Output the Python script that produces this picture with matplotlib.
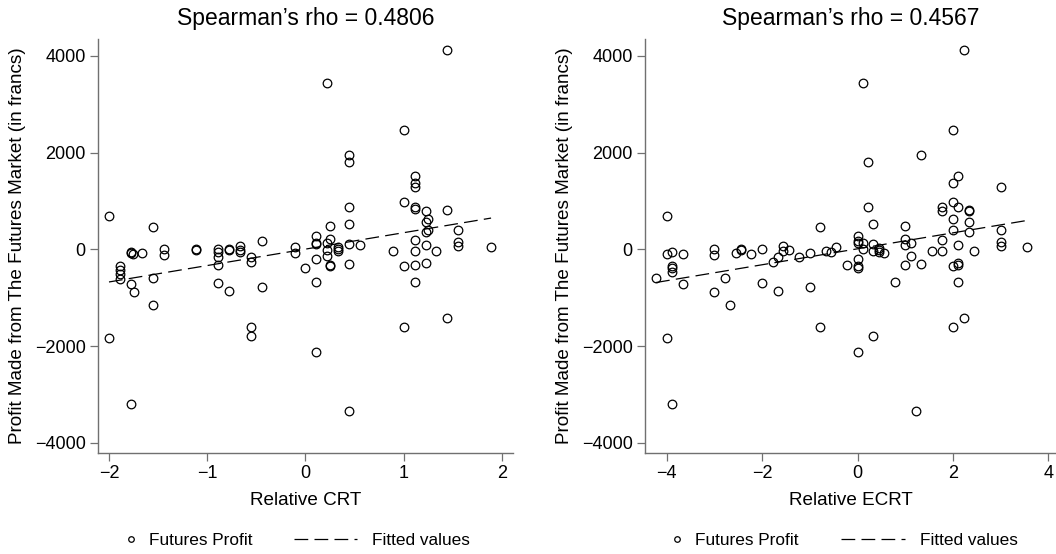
import matplotlib
matplotlib.use('Agg')
import matplotlib.pyplot as plt
from matplotlib.lines import Line2D
import numpy as np

plt.rcParams['font.family'] = ['Liberation Sans', 'DejaVu Sans']

# values
crt_x = [-2.0, -2.0, -1.889, -1.889, -1.889, -1.889, -1.778, -1.778, -1.756,
         -1.667, -1.778, -1.744, -1.778, -1.556, -1.556, -1.556, -1.444, -1.444,
         -1.111, -1.111, -0.889, -0.889, -0.889, -0.889, -0.889, -0.778, -0.778,
         -0.778, -0.667, -0.667, -0.667, -0.556, -0.556, -0.556, -0.556, -0.444,
         -0.444, -0.111, -0.111, 0.0, 0.111, 0.111, 0.111, 0.111, 0.111, 0.111,
         0.222, 0.222, 0.222, 0.222, 0.25, 0.25, 0.25, 0.25, 0.333, 0.333, 0.333,
         0.444, 0.444, 0.444, 0.444, 0.444, 0.444, 0.444, 0.556, 0.889, 1.0, 1.0,
         1.0, 1.0, 1.111, 1.111, 1.111, 1.111, 1.111, 1.111, 1.111, 1.111, 1.111,
         1.222, 1.222, 1.25, 1.222, 1.25, 1.222, 1.222, 1.333, 1.444, 1.444,
         1.444, 1.556, 1.556, 1.556, 1.889]
crt_profit = [690, -1841, -345, -428, -510, -607, -50, -80, -95,
              -76, -724, -883, -3207, 455, -593, -1159, 14, -124,
              7, -14, 7, -62, -152, -324, -697, 7, -14,
              -862, 76, -14, -48, -152, -269, -1607, -1800, 166,
              -772, 41, -69, -379, 283, 138, 117, -200, -669, -2131,
              124, -14, -131, 3448, 483, 207, -331, -352, 55, 7, -34,
              1945, 1800, 869, 531, 117, -303, -3345, 97, -28, 2476, 986,
              -345, -1607, 1517, 1366, 1297, 883, 828, 193, -28, -324, -676,
              793, 559, 628, 366, 400, 83, -276, -41, 4124, 821,
              -1428, 393, 152, 69, 48]

ecrt_x = [-4.222, -4.0, -4.0, -4.0, -3.889, -3.889, -3.889, -3.889, -3.889,
          -3.667, -3.667, -3.0, -3.0, -3.0, -2.778, -2.667, -2.556, -2.444,
          -2.444, -2.222, -2.0, -2.0, -1.778, -1.667, -1.667, -1.556, -1.556,
          -1.444, -1.222, -1.0, -1.0, -0.778, -0.778, -0.667, -0.556, -0.444,
          -0.222, 0.0, 0.0, 0.0, 0.0, 0.0, 0.0, 0.0, 0.111, 0.111, 0.111,
          0.222, 0.222, 0.333, 0.333, 0.333, 0.333, 0.444, 0.444, 0.444, 0.556,
          0.778, 1.0, 1.0, 1.0, 1.0, 1.111, 1.111, 1.222, 1.333, 1.333, 1.556,
          1.778, 1.778, 1.778, 1.778, 2.0, 2.0, 2.0, 2.0, 2.0, 2.0, 2.0,
          2.111, 2.111, 2.111, 2.111, 2.111, 2.111, 2.222, 2.222, 2.333, 2.333,
          2.333, 2.333, 2.444, 3.0, 3.0, 3.0, 3.0, 3.556]
ecrt_profit = [-593, 690, -90, -1841, -48, -345, -379, -476, -3207,
               -90, -724, 7, -124, -883, -593, -1159, -76, 7,
               -14, -97, 7, -697, -269, -166, -862, 76, -28,
               -14, -166, -69, -772, 455, -1607, -28, -48, 41,
               -324, 283, 172, 138, -200, -352, -379, -2131, 3448, 124, 0,
               1800, 869, 531, 117, -28, -1800, 34, -14, -48, -69,
               -676, 476, 207, 90, -331, 124, -138, -3345, 1952, -303, -28,
               883, 793, 193, -28, 2476, 1366, 986, 628, 400, -345, -1607,
               1517, 883, 83, -276, -324, -676, 4124, -1428, 814, 793,
               559, 366, -41, 1297, 393, 152, 69, 48]

titles = ["Spearman\u2019s rho = 0.4806", "Spearman\u2019s rho = 0.4567"]
xlabels = ["Relative CRT", "Relative ECRT"]
ylabel = "Profit Made from The Futures Market (in francs)"
xticks = [[-2, -1, 0, 1, 2], [-4, -2, 0, 2, 4]]
xlims = [(-2.112, 2.109), (-4.454, 4.16)]
yticks = [-4000, -2000, 0, 2000, 4000]

fig = plt.figure(figsize=(10.56, 5.54), dpi=100)
ax1 = fig.add_axes([0.0928, 0.1823, 0.3927, 0.7467])
ax2 = fig.add_axes([0.6108, 0.1823, 0.3892, 0.7467])
# left edges of the two legend entries, in axes fraction
leg_x = [(0.0685, 0.472), (0.0674, 0.477)]

grey = '#707070'
for ax, xs, ys, t, xl, xt, lim, lx in zip([ax1, ax2], [crt_x, ecrt_x], [crt_profit, ecrt_profit],
                                          titles, xlabels, xticks, xlims, leg_x):
    xs = np.array(xs)
    ys = np.array(ys)
    ax.plot(xs, ys, 'o', mfc='none', mec='black', ms=6.2, mew=0.9, zorder=3)
    b, a = np.polyfit(xs, ys, 1)
    fx = np.array([xs.min(), xs.max()])
    ln, = ax.plot(fx, a + b * fx, color='black', lw=0.9, dashes=(11, 5))
    ax.set_xlim(lim)
    ax.set_ylim(-4213, 4343)
    ax.set_xticks(xt)
    ax.set_yticks(yticks)
    for s in ['top', 'right']:
        ax.spines[s].set_visible(False)
    for s in ['left', 'bottom']:
        ax.spines[s].set_color(grey)
        ax.spines[s].set_linewidth(1.0)
    ax.tick_params(length=5.8, width=0.9, color=grey, labelsize=13, pad=3)
    ax.set_title(t, fontsize=16.5, pad=10)
    ax.set_xlabel(xl, fontsize=13.6, labelpad=7)
    ax.set_ylabel(ylabel, fontsize=13.6, labelpad=6.5)

    mk = Line2D([], [], ls='none', marker='o', mfc='none', mec='black', ms=4, mew=0.9)
    leg1 = ax.legend([mk], ['Futures Profit'], frameon=False, loc='center left',
                     bbox_to_anchor=(lx[0], -0.212), fontsize=12.4, borderpad=0,
                     borderaxespad=0, handlelength=0.5, handletextpad=0.8)
    ax.add_artist(leg1)
    ax.legend([ln], ['Fitted values'], frameon=False, loc='center left',
              bbox_to_anchor=(lx[1], -0.212), fontsize=12.4, borderpad=0,
              borderaxespad=0, handlelength=3.7, handletextpad=0.87)

fig.savefig('out.png', dpi=100)
